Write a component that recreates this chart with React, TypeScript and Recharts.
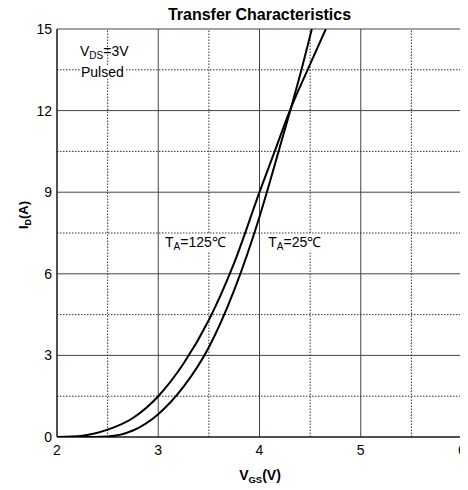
import React from "react";
import { LineChart, Line, XAxis, YAxis, CartesianGrid, ReferenceLine, ReferenceDot } from "recharts";

const vgs125 = [2.0, 2.25, 2.5, 2.75, 3.0, 3.25, 3.5, 3.75, 4.0, 4.15, 4.3, 4.475, 4.655];
const id125 = [0, 0.05, 0.27, 0.7, 1.5, 2.7, 4.3, 6.4, 9.0, 10.5, 12, 13.5, 15];

const vgs25 = [2.0, 2.25, 2.5, 2.75, 3.0, 3.25, 3.5, 3.75, 4.0, 4.1, 4.2, 4.3, 4.4, 4.517];
const id25 = [0, 0.0, 0.02, 0.24, 0.84, 1.85, 3.3, 5.4, 8.1, 9.35, 10.65, 11.95, 13.3, 15];

const xTicks = [2, 3, 4, 5, 6];
const yTicks = [0, 3, 6, 9, 12, 15];
const xMinor = [2.5, 3.5, 4.5, 5.5];
const yMinor = [1.5, 4.5, 7.5, 10.5, 13.5];

const data125 = vgs125.map((v, k) => ({ v, i: id125[k] }));
const data25 = vgs25.map((v, k) => ({ v, i: id25[k] }));

const FONT = "'Liberation Sans', Arial, Helvetica, sans-serif";

const renderYLabel = () => (
  <text
    x={20}
    y={207}
    transform="rotate(-90 20 207)"
    textAnchor="middle"
    fontSize={13}
    fontWeight="bold"
    fill="#000"
  >
    <tspan>I</tspan>
    <tspan fontSize={9} dy={3}>D</tspan>
    <tspan dy={-3}>(A)</tspan>
  </text>
);

const renderXLabel = () => (
  <text x={252} y={472} textAnchor="middle" fontSize={14} fontWeight="bold" fill="#000">
    <tspan>V</tspan>
    <tspan fontSize={9.5} dy={3}>GS</tspan>
    <tspan dy={-3}>(V)</tspan>
  </text>
);

const vdsShape = (p: any) => (
  <text x={p.cx} y={p.cy} fontSize={14} fill="#000">
    <tspan>V</tspan>
    <tspan fontSize={10} dy={3}>DS</tspan>
    <tspan dy={-3}>=3V</tspan>
  </text>
);

const pulsedShape = (p: any) => (
  <g>
    <rect x={p.cx - 1} y={p.cy - 12} width={46} height={14} fill="#fff" />
    <text x={p.cx} y={p.cy} fontSize={14} fill="#000">Pulsed</text>
  </g>
);

const makeTaShape = (temp: string, w: number) => (p: any) => (
  <g>
    <rect x={p.cx - 2} y={p.cy - 13} width={w} height={17} fill="#fff" />
    <text x={p.cx} y={p.cy} fontSize={14} fill="#000">
      <tspan>T</tspan>
      <tspan fontSize={10} dy={3}>A</tspan>
      <tspan dy={-3}>{"=" + temp + "\u2103"}</tspan>
    </text>
  </g>
);

export default function App() {
  return (
    <div style={{ position: "relative", width: 460, height: 482, fontFamily: FONT }}>
      <style>{"html,body{overflow:hidden;}"}</style>
      <div
        style={{
          position: "absolute",
          left: 49,
          top: -1,
          width: 405,
          textAlign: "center",
          fontSize: 16,
          lineHeight: "16px",
          fontWeight: "bold",
          color: "#000",
          zIndex: 1,
        }}
      >
        Transfer Characteristics
      </div>
      <LineChart width={460} height={482} margin={{ top: 21, right: 6, left: 0, bottom: 0 }}>
        <CartesianGrid stroke="#444" strokeWidth={1} />
        {xMinor.map((x) => (
          <ReferenceLine key={"vx" + x} x={x} stroke="#333" strokeDasharray="1.5 1.5" strokeWidth={1} />
        ))}
        {yMinor.map((y) => (
          <ReferenceLine key={"hy" + y} y={y} stroke="#333" strokeDasharray="1.5 1.5" strokeWidth={1} />
        ))}
        <XAxis
          type="number"
          dataKey="v"
          domain={[2, 6]}
          ticks={xTicks}
          allowDataOverflow
          height={53}
          tickLine={false}
          tickSize={0}
          tickMargin={8}
          axisLine={{ stroke: "#000" }}
          tick={{ fontSize: 14, fill: "#000" }}
          label={renderXLabel}
        />
        <YAxis
          type="number"
          dataKey="i"
          domain={[0, 15]}
          ticks={yTicks}
          allowDataOverflow
          width={49}
          tickLine={false}
          tickSize={0}
          tickMargin={5}
          axisLine={{ stroke: "#000" }}
          tick={{ fontSize: 14, fill: "#000" }}
          label={renderYLabel}
        />
        <Line
          data={data125}
          dataKey="i"
          type="monotone"
          stroke="#000"
          strokeWidth={2}
          dot={false}
          isAnimationActive={false}
        />
        <Line
          data={data25}
          dataKey="i"
          type="monotone"
          stroke="#000"
          strokeWidth={2}
          dot={false}
          isAnimationActive={false}
        />
        <ReferenceDot x={2.227} y={14.0} r={0} shape={vdsShape} />
        <ReferenceDot x={2.237} y={13.24} r={0} shape={pulsedShape} />
        <ReferenceDot x={3.067} y={6.99} r={0} shape={makeTaShape("125", 63)} />
        <ReferenceDot x={4.087} y={6.99} r={0} shape={makeTaShape("25", 57)} />
      </LineChart>
    </div>
  );
}
